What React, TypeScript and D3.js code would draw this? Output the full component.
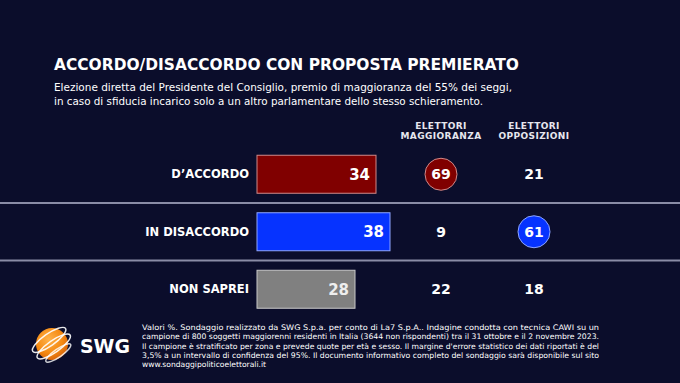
import React from "react";
import * as d3 from "d3";

const categories = ["D’ACCORDO", "IN DISACCORDO", "NON SAPREI"];
const totals = [34, 38, 28];
const maggioranza = [69, 9, 22];
const opposizioni = [21, 61, 18];
const columnHeaders = [["ELETTORI", "MAGGIORANZA"], ["ELETTORI", "OPPOSIZIONI"]];
const rowColors = ["#800000", "#0633ff", "#808080"];
const rowStrokes = ["#d08a8a", "#8fa6ff", "#c8c8c8"];
const title = "ACCORDO/DISACCORDO CON PROPOSTA PREMIERATO";
const subtitle = [
  "Elezione diretta del Presidente del Consiglio, premio di maggioranza del 55% dei seggi,",
  "in caso di sfiducia incarico solo a un altro parlamentare dello stesso schieramento.",
];
const footer = [
  "Valori %. Sondaggio realizzato da SWG S.p.a. per conto di La7 S.p.A.. Indagine condotta con tecnica CAWI su un",
  "campione di 800 soggetti maggiorenni residenti in Italia (3644 non rispondenti) tra il 31 ottobre e il 2 novembre 2023.",
  "Il campione è stratificato per zona e prevede quote per età e sesso. Il margine d'errore statistico dei dati riportati è del",
  "3,5% a un intervallo di confidenza del 95%. Il documento informativo completo del sondaggio sarà disponibile sul sito",
  "www.sondaggipoliticoelettorali.it",
];

const W = 680;
const H = 383;
const BG = "#0b0d2b";
const FONT = "'DejaVu Sans', Verdana, sans-serif";

export default function App() {
  const y = d3.scaleBand<number>().domain([0, 1, 2]).range([145.5, 318]).paddingInner(0).paddingOuter(0);
  const x = d3.scaleLinear().domain([0, 100]).range([257, 607]);
  const colX = d3.scalePoint<number>().domain([0, 1]).range([441, 534]);
  const barH = 38;
  const columns = [maggioranza, opposizioni];

  return (
    <div style={{ position: "absolute", left: 0, top: 0 }}>
      <svg width={W} height={H} style={{ display: "block" }}>
        <defs>
          <radialGradient id="sphere" cx="0.4" cy="0.35" r="0.7">
            <stop offset="0" stopColor="#ffb24a" />
            <stop offset="0.6" stopColor="#f58a12" />
            <stop offset="1" stopColor="#d4600a" />
          </radialGradient>
        </defs>
        <rect x={0} y={0} width={W} height={H} fill={BG} />

        <text x={54} y={70} fill="#ffffff" fontFamily={FONT} fontWeight="bold" fontSize={15}
          textLength={465} lengthAdjust="spacingAndGlyphs">{title}</text>
        {subtitle.map((s, i) => (
          <text key={i} x={54} y={91 + i * 14} fill="#ffffff" fontFamily={FONT} fontSize={11}
            textLength={i === 0 ? 458 : 429} lengthAdjust="spacingAndGlyphs">{s}</text>
        ))}

        {columnHeaders.map((h, c) => (
          <g key={c}>
            {h.map((t, k) => (
              <text key={k} x={colX(c)} y={129 + k * 10} textAnchor="middle" fill="#e6e6ee"
                fontFamily={FONT} fontWeight="bold" fontSize={9} letterSpacing={0.4}>{t}</text>
            ))}
          </g>
        ))}

        {categories.slice(0, -1).map((_, i) => {
          const yy = (y(i) as number) + y.bandwidth();
          return <rect key={i} x={0} y={yy - 1} width={W} height={2} fill="#8a8ca6" />;
        })}

        {categories.map((cat, i) => {
          const cy = (y(i) as number) + y.bandwidth() / 2;
          return (
            <g key={cat}>
              <text x={249} y={cy} dy="0.36em" textAnchor="end" fill="#ffffff" fontFamily={FONT}
                fontWeight="bold" fontSize={11.5}>{cat}</text>
              <rect x={x(0)} y={cy - barH / 2} width={x(totals[i]) - x(0)} height={barH}
                fill={rowColors[i]} stroke={rowStrokes[i]} strokeWidth={1} />
              <text x={x(totals[i]) - 6} y={cy} dy="0.37em" textAnchor="end"
                fill={i === 2 ? "#eeeeee" : "#ffffff"} fontFamily={FONT} fontWeight="bold" fontSize={15}>{totals[i]}</text>
              {columns.map((col, c) => {
                const isMax = col[i] === d3.max(col);
                return (
                  <g key={c}>
                    {isMax && (
                      <circle cx={colX(c)} cy={cy} r={16} fill={rowColors[i]} stroke={rowStrokes[i]} strokeWidth={1} />
                    )}
                    <text x={colX(c)} y={cy} dy="0.37em" textAnchor="middle" fill="#ffffff"
                      fontFamily={FONT} fontWeight="bold" fontSize={14}>{col[i]}</text>
                  </g>
                );
              })}
            </g>
          );
        })}

        <g>
          <circle cx={52} cy={344} r={16} fill="url(#sphere)" />
          <g transform="translate(52,344) rotate(-35)" fill="none" stroke="#ffffff" strokeWidth={1.5}>
            <ellipse cx={0} cy={-5} rx={20} ry={6} opacity={0.9} />
            <ellipse cx={0} cy={3} rx={20} ry={6} opacity={0.9} />
            <ellipse cx={0} cy={11} rx={15} ry={4} opacity={0.8} />
          </g>
          <text x={80} y={353} fill="#ffffff" fontFamily={FONT} fontWeight="bold" fontSize={19}
            textLength={50} lengthAdjust="spacingAndGlyphs">SWG</text>
        </g>

        {footer.map((s, i) => (
          <text key={i} x={142} y={330 + i * 9.3} fill="#ffffff" fontFamily={FONT} fontSize={7.6}
            textLength={i < 4 ? 457 : 124} lengthAdjust="spacingAndGlyphs">{s}</text>
        ))}
      </svg>
    </div>
  );
}
